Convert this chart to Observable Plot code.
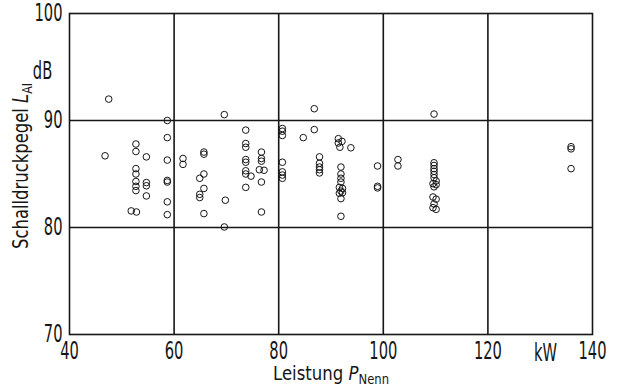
<!DOCTYPE html>
<html>
<head>
<meta charset="utf-8">
<script src="https://cdn.jsdelivr.net/npm/d3@7"></script>
<script src="https://cdn.jsdelivr.net/npm/@observablehq/plot@0.6"></script>
<style>
  html, body { margin: 0; padding: 0; background: #fff; }
</style>
</head>
<body>
<div id="chart"></div>
<script>
// Rated power (kW) of each measured unit
const powerKW = [
  47.5, 46.8,
  52.7, 52.7, 52.7, 52.7, 52.7, 52.7, 52.7, 51.8, 52.8,
  54.7, 54.7, 54.7, 54.7,
  58.7, 58.7, 58.7, 58.7, 58.7, 58.7, 58.7,
  61.7, 61.7,
  65.7, 65.7, 65.7, 64.9, 65.7, 64.9, 64.9, 65.7,
  69.6, 69.8, 69.6,
  73.7, 73.7, 73.7, 73.7, 73.7, 73.7, 73.7, 73.7, 74.7,
  76.7, 76.7, 76.7, 76.3, 77.2, 76.7, 76.7,
  80.7, 80.7, 80.7, 80.7, 80.7, 80.7, 80.7,
  84.7, 86.8, 86.8,
  87.8, 87.8, 87.8, 87.8, 87.8,
  91.4, 91.4, 92.1, 91.7, 93.8,
  91.9, 91.9, 91.9, 91.9, 91.6, 92.2, 91.9, 91.6, 92.2, 91.9, 91.9,
  98.9, 98.9, 98.9,
  102.8, 102.8,
  109.7, 109.7, 109.7, 109.7, 109.7, 109.7, 109.7, 110.1, 109.5, 110.1, 109.7,
  109.5, 110.1, 109.7, 109.5, 110.1,
  135.9, 135.9, 135.9
];
// A-weighted sound pressure level L_AI (dB) of each unit
const levelDB = [
  92.0, 86.7,
  87.8, 87.1, 85.5, 85.0, 84.3, 83.85, 83.45, 81.55, 81.45,
  86.6, 84.2, 83.9, 82.95,
  90.0, 88.4, 86.3, 84.4, 84.25, 82.4, 81.2,
  86.45, 85.9,
  87.05, 86.85, 85.0, 84.6, 83.65, 83.1, 82.8, 81.3,
  90.55, 82.55, 80.05,
  89.1, 87.85, 87.5, 86.35, 86.1, 85.3, 85.0, 83.75, 84.8,
  87.05, 86.45, 86.2, 85.4, 85.35, 84.25, 81.45,
  89.25, 89.0, 88.6, 86.1, 85.2, 84.9, 84.6,
  88.4, 91.1, 89.15,
  86.6, 86.0, 85.65, 85.4, 85.1,
  88.3, 87.9, 88.05, 87.5, 87.45,
  85.65, 85.0, 84.6, 84.25, 83.75, 83.65, 83.4, 83.2, 83.25, 82.7, 81.05,
  85.75, 83.85, 83.7,
  86.35, 85.75,
  90.6, 86.05, 85.8, 85.5, 85.25, 84.95, 84.65, 84.35, 84.1, 84.0, 83.8,
  82.85, 82.65, 82.2, 81.85, 81.7,
  87.55, 87.35, 85.5
];
// Axis tick values and labels
const xTicks = [40, 60, 80, 100, 120, 140];
const yTicks = [70, 80, 90, 100];
const xGridLines = [60, 80, 100, 120];
const yGridLines = [80, 90];
const xUnit = ["kW"];
const yUnit = ["dB"];

const points = powerKW.map((p, i) => ({p, l: levelDB[i]}));
const ink = "#161616";
const font = "\"DejaVu Sans Condensed\", \"DejaVu Sans\", sans-serif";

const plot = Plot.plot({
  width: 619,
  height: 386,
  marginLeft: 69,
  marginRight: 27,
  marginTop: 13,
  marginBottom: 52,
  x: {domain: [40, 140]},
  y: {domain: [70, 100]},
  style: {fontFamily: font, fontSize: "24px", color: ink, background: "#fff", overflow: "visible"},
  marks: [
    Plot.gridX(xGridLines, {stroke: ink, strokeOpacity: 1, strokeWidth: 1.6}),
    Plot.gridY(yGridLines, {stroke: ink, strokeOpacity: 1, strokeWidth: 1.6}),
    Plot.frame({stroke: ink, strokeWidth: 1.6}),
    Plot.axisX(xTicks, {tickSize: 0, tickPadding: 7, label: null, fontSize: 24}),
    Plot.axisY(yTicks, {tickSize: 0, tickPadding: 7, label: null, fontSize: 24}),
    Plot.text(xUnit, {x: 131, y: 70, dy: 26, frameAnchor: "bottom", fontSize: 24, fill: ink}),
    Plot.text(yUnit, {x: 40, y: 94.6, dx: -27, fontSize: 24, fill: ink}),
    Plot.dot(points, {x: "p", y: "l", r: 3.3, stroke: ink, strokeWidth: 1, fill: "none"})
  ]
});

document.getElementById("chart").appendChild(plot);
const svg = d3.select(plot);

// Narrow the glyphs (the reference uses a condensed DIN-style face)
svg.selectAll("text").each(function () {
  const t = this.getAttribute("transform");
  if (t && /translate/.test(t)) {
    this.setAttribute("transform", t + " scale(0.68,1)");
  } else {
    const L = this.getComputedTextLength();
    this.setAttribute("textLength", L * 0.68);
    this.setAttribute("lengthAdjust", "spacingAndGlyphs");
  }
});

// x axis title with subscript
const xt = svg.append("text")
  .attr("transform", "translate(331,380) scale(0.92,1)")
  .attr("text-anchor", "middle")
  .attr("fill", ink)
  .style("font-family", font)
  .style("font-size", "20px");
xt.append("tspan").text("Leistung ");
xt.append("tspan").attr("font-style", "italic").text("P");
xt.append("tspan").attr("dy", 4).style("font-size", "14px").text("Nenn");

// y axis title with subscript, rotated
const yt = svg.append("text")
  .attr("transform", "translate(28,166) rotate(-90) scale(0.87,1)")
  .attr("text-anchor", "middle")
  .attr("fill", ink)
  .style("font-family", font)
  .style("font-size", "21px");
yt.append("tspan").text("Schalldruckpegel ");
yt.append("tspan").attr("font-style", "italic").text("L");
yt.append("tspan").attr("dy", 4).style("font-size", "14px").text("AI");
</script>
</body>
</html>
